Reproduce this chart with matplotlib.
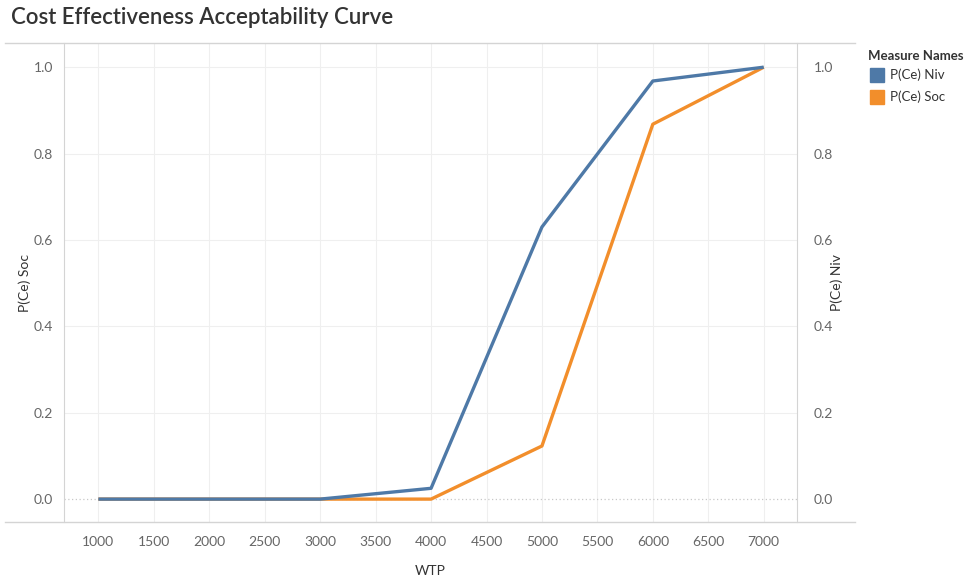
import matplotlib.pyplot as plt
from matplotlib.lines import Line2D
from matplotlib.patches import Rectangle

wtp = [1000, 2000, 3000, 4000, 5000, 6000, 7000]
p_niv = [0.0, 0.0, 0.0, 0.025, 0.63, 0.968, 1.0]
p_soc = [0.0, 0.0, 0.0, 0.0, 0.123, 0.868, 1.0]
x_ticks = list(range(1000, 7001, 500))
y_ticks = [0.0, 0.2, 0.4, 0.6, 0.8, 1.0]

blue = "#4e79a7"
orange = "#f28e2b"
grid_c = "#efefef"
tick_c = "#666666"
line_c = "#d4d4d4"

plt.rcParams['font.family'] = ['Lato', 'DejaVu Sans']

fig = plt.figure(figsize=(9.65, 5.79), dpi=100)
ax = fig.add_axes([64 / 965, 57 / 579, 733 / 965, 479 / 579])
ax2 = ax.twinx()

ax.set_xlim(690, 7300)
ax.set_ylim(-0.053, 1.056)
ax2.set_ylim(-0.053, 1.056)

# grid
for xv in x_ticks:
    ax.axvline(xv, color=grid_c, lw=0.8, zorder=0)
for yv in y_ticks[1:]:
    ax.axhline(yv, color=grid_c, lw=0.8, zorder=0)
ax.axhline(0, color="#c8c8c8", lw=0.9, ls=(0, (1, 2)), zorder=1)

ax2.plot(wtp, p_soc, color=orange, lw=2.4, zorder=3, solid_capstyle="butt")
ax2.plot(wtp, p_niv, color=blue, lw=2.4, zorder=4, solid_capstyle="butt")

ax.set_xticks(x_ticks)
ax.set_xticklabels([str(v) for v in x_ticks])
ax.set_yticks(y_ticks)
ax.set_yticklabels([f"{v:.1f}" for v in y_ticks])
ax2.set_yticks(y_ticks)
ax2.set_yticklabels([f"{v:.1f}" for v in y_ticks])

for a in (ax, ax2):
    a.tick_params(length=0, labelsize=10, labelcolor=tick_c, pad=8)
    for s in a.spines.values():
        s.set_visible(False)
ax.tick_params(axis="x", pad=10)
ax2.tick_params(axis="y", pad=12)

ax.set_xlabel("WTP", fontsize=10, color="#333333", labelpad=12)
ax.set_ylabel("P(Ce) Soc", fontsize=10, color="#333333", labelpad=2)
ax2.set_ylabel("P(Ce) Niv", fontsize=10, color="#333333", labelpad=-2)

ax.spines["left"].set_visible(True)
ax.spines["left"].set_color(line_c)
ax2.spines["right"].set_visible(True)
ax2.spines["right"].set_color(line_c)

# full-width top and bottom rules
fig.add_artist(Line2D([5 / 965, 855 / 965], [536 / 579, 536 / 579], color=line_c, lw=1))
fig.add_artist(Line2D([5 / 965, 855 / 965], [57 / 579, 57 / 579], color=line_c, lw=1))

fig.text(11 / 965, 1 - 18 / 579, "Cost Effectiveness Acceptability Curve",
         fontsize=16, fontweight="semibold", color="#333333", va="center", ha="left")

# legend
fig.text(868 / 965, 1 - 56 / 579, "Measure Names", fontsize=9.5,
         fontweight="bold", color="#333333", va="center")
for i, (lab, col) in enumerate([("P(Ce) Niv", blue), ("P(Ce) Soc", orange)]):
    yc = 75 + i * 22
    fig.add_artist(Rectangle((870 / 965, 1 - (yc + 7) / 579), 14 / 965, 14 / 579,
                             color=col, transform=fig.transFigure))
    fig.text(890 / 965, 1 - yc / 579, lab, fontsize=9.5, color="#333333", va="center")

fig.savefig("out.png", dpi=100)
